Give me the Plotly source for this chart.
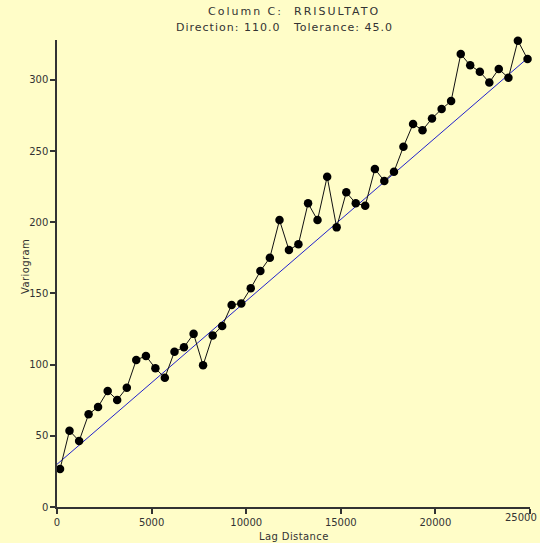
import plotly.graph_objects as go

# Experimental variogram (lag distance, variogram value)
lag = [160, 660, 1170, 1670, 2170, 2680, 3180, 3690, 4190, 4700,
       5200, 5700, 6210, 6710, 7220, 7720, 8230, 8730, 9230, 9740,
       10240, 10750, 11250, 11760, 12260, 12760, 13270, 13770, 14280, 14780,
       15290, 15790, 16290, 16800, 17300, 17810, 18310, 18820, 19320, 19820,
       20330, 20830, 21340, 21840, 22350, 22850, 23350, 23860, 24360, 24870]
gamma = [26.7, 53.6, 46.4, 65.1, 70.3, 81.5, 75.2, 83.8, 103.3, 106.1,
         97.4, 90.8, 109.1, 112.2, 121.6, 99.5, 120.5, 127.1, 141.9, 143.0,
         153.6, 165.7, 175.1, 201.5, 180.5, 184.5, 213.3, 201.5, 232.0, 196.4,
         221.0, 213.3, 211.6, 237.4, 228.9, 235.5, 253.0, 269.0, 264.7, 272.9,
         279.5, 285.1, 318.1, 310.2, 305.7, 298.2, 307.6, 301.5, 327.5, 314.6]

# Fitted linear model
model_lag = [0, 25000]
model_gamma = [30.0, 316.7]

x_ticks = [0, 5000, 10000, 15000, 20000, 25000]
y_ticks = [0, 50, 100, 150, 200, 250, 300]

title_line1 = "Column C:\u00a0\u00a0RRISULTATO"
title_line2 = "Direction: 110.0\u00a0\u00a0\u00a0Tolerance: 45.0"
x_title = "Lag Distance"
y_title = "Variogram"

W, H = 540, 543
ML, MR, MT, MB = 57, 10, 40, 36
BG = "#FFFDC8"
TXT = "#333333"
FONT = "DejaVu Sans"

def spaced(s, px):
    return f'<span style="letter-spacing:{px}px">{s}</span>'

plot_w = W - ML - MR
plot_h = H - MT - MB

def py_to_paper(py):
    return (H - MB - py) / plot_h

def px_to_paper(px):
    return (px - ML) / plot_w

# last x tick label would overflow the page edge: draw it right-aligned instead
last_tick = x_ticks[-1]
tick_text = [str(v) if v != last_tick else "" for v in x_ticks]

fig = go.Figure()
fig.add_trace(go.Scatter(x=model_lag, y=model_gamma, mode="lines",
                         line=dict(color="#2222cc", width=1),
                         hoverinfo="skip", cliponaxis=False))
fig.add_trace(go.Scatter(x=lag, y=gamma, mode="lines+markers",
                         line=dict(color="#111111", width=1),
                         marker=dict(color="#000000", size=8.5),
                         cliponaxis=False))

fig.update_layout(
    width=W, height=H,
    margin=dict(l=ML, r=MR, t=MT, b=MB, autoexpand=False),
    paper_bgcolor=BG, plot_bgcolor=BG,
    showlegend=False,
    font=dict(family=FONT, size=10, color=TXT),
    annotations=[
        dict(text=spaced(title_line1, 2.0), x=0.5, xref="paper",
             y=py_to_paper(12), yref="paper", yanchor="middle",
             showarrow=False, font=dict(size=11, color=TXT, family=FONT)),
        dict(text=spaced(title_line2, 1.0), x=0.5, xref="paper", xshift=-9,
             y=py_to_paper(27), yref="paper", yanchor="middle",
             showarrow=False, font=dict(size=11, color=TXT, family=FONT)),
        dict(text=spaced(y_title, 0.4), textangle=-90,
             x=px_to_paper(25), xref="paper", xanchor="center",
             y=py_to_paper(267), yref="paper", yanchor="middle",
             showarrow=False, font=dict(size=10, color=TXT, family=FONT)),
        dict(text=spaced(x_title, 0.4),
             x=0.5, xref="paper", xanchor="center",
             y=py_to_paper(536), yref="paper", yanchor="middle",
             showarrow=False, font=dict(size=10, color=TXT, family=FONT)),
        dict(text=str(last_tick), x=last_tick, xref="x", xanchor="right",
             xshift=9, y=py_to_paper(517), yref="paper", yanchor="middle",
             showarrow=False, font=dict(size=10, color=TXT, family=FONT)),
    ],
)

fig.update_xaxes(range=[0, 25000], tickvals=x_ticks, ticktext=tick_text,
                 showgrid=False, zeroline=False, automargin=False,
                 showline=True, linecolor="#333333", linewidth=1.5,
                 ticks="outside", ticklen=5, tickcolor="#333333", tickwidth=1.5,
                 ticklabeloverflow="allow",
                 tickfont=dict(size=10, color=TXT, family=FONT))
fig.update_yaxes(range=[0, 328], tickvals=y_ticks,
                 showgrid=False, zeroline=False, automargin=False,
                 showline=True, linecolor="#333333", linewidth=1.5,
                 ticks="outside", ticklen=5, tickcolor="#333333", tickwidth=1.5,
                 ticklabeloverflow="allow",
                 tickfont=dict(size=10, color=TXT, family=FONT))

fig.write_html("out.html")
